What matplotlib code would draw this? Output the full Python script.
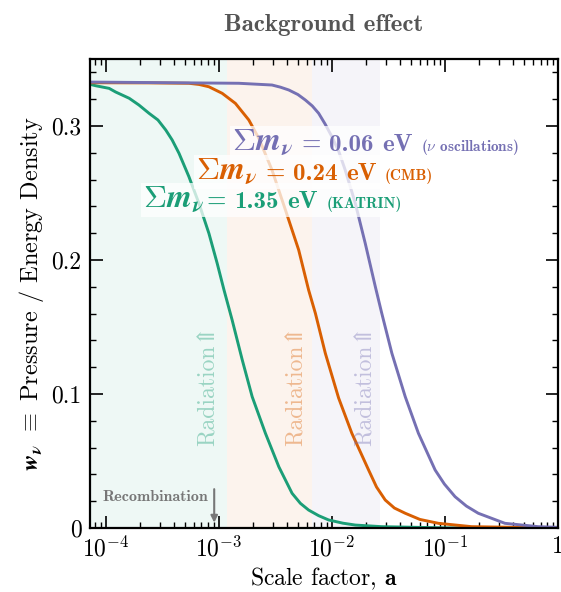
import math
import matplotlib
matplotlib.use("Agg")
import matplotlib.pyplot as plt
import matplotlib.ticker as mticker
import matplotlib.transforms as mtransforms
from matplotlib.offsetbox import TextArea, HPacker, AnnotationBbox

plt.rcParams['font.family'] = 'serif'
plt.rcParams['font.serif'] = ['cmr10']
plt.rcParams['mathtext.fontset'] = 'cm'
plt.rcParams['axes.formatter.use_mathtext'] = True
plt.rcParams['axes.unicode_minus'] = False

# ---------------- data ----------------
a_green = [7.1e-5, 8.2e-5, 1.07e-4, 1.22e-4, 1.61e-4, 1.96e-4, 2.41e-4, 2.89e-4,
           3.39e-4, 3.86e-4, 4.44e-4, 5.43e-4, 6.66e-4, 8.16e-4, 9.66e-4, 1.11e-3,
           1.31e-3, 1.61e-3, 1.97e-3, 2.58e-3, 3.39e-3, 4.44e-3, 5.26e-3, 6.22e-3,
           7.63e-3, 9.35e-3, 1.25e-2, 1.61e-2, 2.75e-2, 0.1, 1.0]
w_green = [0.3313, 0.3300, 0.3281, 0.3254, 0.3207, 0.3157, 0.3095, 0.3045,
           0.2970, 0.2896, 0.2796, 0.2622, 0.2423, 0.2199, 0.1975, 0.1776,
           0.1552, 0.1254, 0.0980, 0.0707, 0.0457, 0.0259, 0.0184, 0.0134,
           0.0092, 0.0060, 0.0036, 0.0022, 0.0010, 0.0001, 0.0]

a_orange = [7.1e-5, 2.41e-4, 5.43e-4, 6.7e-4, 8.16e-4, 1.07e-3, 1.40e-3, 1.84e-3,
            2.25e-3, 2.95e-3, 3.88e-3, 5.08e-3, 6.22e-3, 7.14e-3, 8.74e-3, 1.146e-2,
            1.50e-2, 2.11e-2, 2.48e-2, 2.96e-2, 3.57e-2, 4.45e-2, 6.0e-2, 8.75e-2,
            0.172, 1.0]
w_orange = [0.3323, 0.3322, 0.3319, 0.3310, 0.3293, 0.3244, 0.3169, 0.3045,
            0.2910, 0.2672, 0.2373, 0.2075, 0.1776, 0.1602, 0.1304, 0.0970,
            0.0707, 0.0433, 0.0306, 0.0209, 0.0149, 0.0110, 0.0064, 0.0035,
            0.0010, 0.0]

a_purple = [7.1e-5, 1.50e-3, 2.95e-3, 3.5e-3, 4.15e-3, 5.0e-3, 5.82e-3, 6.7e-3,
            7.63e-3, 8.7e-3, 1.0e-2, 1.15e-2, 1.31e-2, 1.61e-2, 1.97e-2, 2.42e-2,
            2.76e-2, 3.39e-2, 4.45e-2, 5.82e-2, 8.18e-2, 9.88e-2, 0.1227, 0.1545,
            0.197, 0.339, 0.667, 1.0]
w_purple = [0.3328, 0.3319, 0.3306, 0.3290, 0.3269, 0.3235, 0.3194, 0.3150,
            0.3095, 0.3015, 0.2920, 0.2810, 0.2672, 0.2423, 0.2125, 0.1801,
            0.1602, 0.1304, 0.0980, 0.0707, 0.0433, 0.0328, 0.0234, 0.0164,
            0.0110, 0.0035, 0.0010, 0.0005]

# non-relativistic transition scale factors (shaded region edges)
a_nr = [1.18e-3, 6.6e-3, 2.65e-2]
a_rec = 1.0 / 1100

colors = ['#1b9e77', '#d95f02', '#7570b3']
sum_label = r'$\mathbf{\Sigma}\mathbfit{m}_{\mathbfit{\nu}}$'
mass_values = ['1.35', '0.24', '0.06']
sub_labels = ['(KATRIN)', '(CMB)', r'($\nu$ oscillations)']

xticks = [1e-4, 1e-3, 1e-2, 1e-1, 1.0]
yticks = [0, 0.1, 0.2, 0.3]
ytick_labels = ['0', '0.1', '0.2', '0.3']

# ---------------- figure ----------------
fig = plt.figure(figsize=(5.61, 5.92), dpi=100)
ax = fig.add_axes([0.1604, 0.1081, 0.8343, 0.7922])

x_left = 7.24e-5
edges = [x_left] + a_nr
for i in range(3):
    ax.axvspan(edges[i], edges[i + 1], color=colors[i], alpha=0.07, lw=0, zorder=0)

ax.plot(a_green, w_green, color=colors[0], lw=2.1, zorder=2, solid_joinstyle='round')
ax.plot(a_orange, w_orange, color=colors[1], lw=2.1, zorder=2, solid_joinstyle='round')
ax.plot(a_purple, w_purple, color=colors[2], lw=2.1, zorder=2, solid_joinstyle='round')

ax.set_xscale('log')
ax.set_xlim(x_left, 1.0)
ax.set_ylim(0, 0.35)

ax.set_xticks(xticks)
ax.xaxis.set_major_formatter(mticker.FuncFormatter(
    lambda v, p: '1' if abs(v - 1) < 1e-9 else r'$10^{%d}$' % round(math.log10(v))))
ax.xaxis.set_minor_locator(mticker.LogLocator(base=10, subs=range(2, 10), numticks=20))
ax.xaxis.set_minor_formatter(mticker.NullFormatter())
ax.set_yticks(yticks)
ax.set_yticklabels(ytick_labels)
ax.yaxis.set_minor_locator(mticker.MultipleLocator(0.02))

ax.tick_params(which='both', direction='in', top=True, right=True, labelsize=17)
ax.tick_params(which='major', length=9, width=1.2, pad=6)
ax.tick_params(which='minor', length=4.5, width=1.0)
for s in ax.spines.values():
    s.set_linewidth(1.6)

ax.set_xlabel(r'Scale factor, $\mathbf{a}$', fontsize=17, labelpad=3)
ax.set_ylabel(r'$\mathbfit{w}_{\mathbfit{\nu}}$ $\equiv$ Pressure / Energy Density',
              fontsize=17.5, labelpad=4)
ax.set_title('Background effect', fontfamily='cmb10', fontsize=18, color='#555555', pad=20)

# curve labels
main_pos = [(0.113, 0.699), (0.2265, 0.759), (0.3034, 0.821)]
eq_sep = [2, 6, 6]
for i in range(3):
    head = HPacker(children=[
        TextArea(sum_label, textprops=dict(color=colors[i], fontsize=23)),
        TextArea('=', textprops=dict(color=colors[i], fontsize=18, fontfamily='cmb10')),
    ], align='baseline', pad=0, sep=eq_sep[i])
    parts = [
        head,
        TextArea(mass_values[i], textprops=dict(color=colors[i], fontsize=18,
                                                fontfamily='cmb10')),
        TextArea('eV', textprops=dict(color=colors[i], fontsize=18, fontfamily='cmb10')),
        TextArea(sub_labels[i], textprops=dict(color=colors[i], fontsize=11,
                                               fontfamily='cmb10')),
    ]
    pack = HPacker(children=parts, align='baseline', pad=0, sep=6)
    ab = AnnotationBbox(pack, main_pos[i], xycoords='axes fraction',
                        box_alignment=(0, 0.5), frameon=True, pad=0.15, zorder=4,
                        bboxprops=dict(facecolor='white', alpha=0.75, edgecolor='none'))
    ax.add_artist(ab)

# radiation labels
trans = mtransforms.blended_transform_factory(ax.transData, ax.transAxes)
offs = [-5, -2.5, -2.5]
for i in range(3):
    ax.annotate('Radiation\u21D1', xy=(a_nr[i], 0.303), xycoords=trans,
                xytext=(offs[i], 0), textcoords='offset points', rotation=90,
                ha='right', va='center', fontsize=17, color=colors[i], alpha=0.4,
                family=['cmr10', 'DejaVu Serif'], zorder=3)

# recombination
ax.annotate('', xy=(a_rec, 0.004), xytext=(a_rec, 0.029),
            arrowprops=dict(arrowstyle='-|>', color='#777777', lw=1.5,
                            shrinkA=0, shrinkB=0), zorder=3)
ax.annotate('Recombination', xy=(a_rec, 0.023), xytext=(-4, 0),
            textcoords='offset points', ha='right', va='center',
            fontfamily='cmb10', fontsize=11.5, color='#777777', zorder=3)

fig.savefig('out.png', dpi=100)
